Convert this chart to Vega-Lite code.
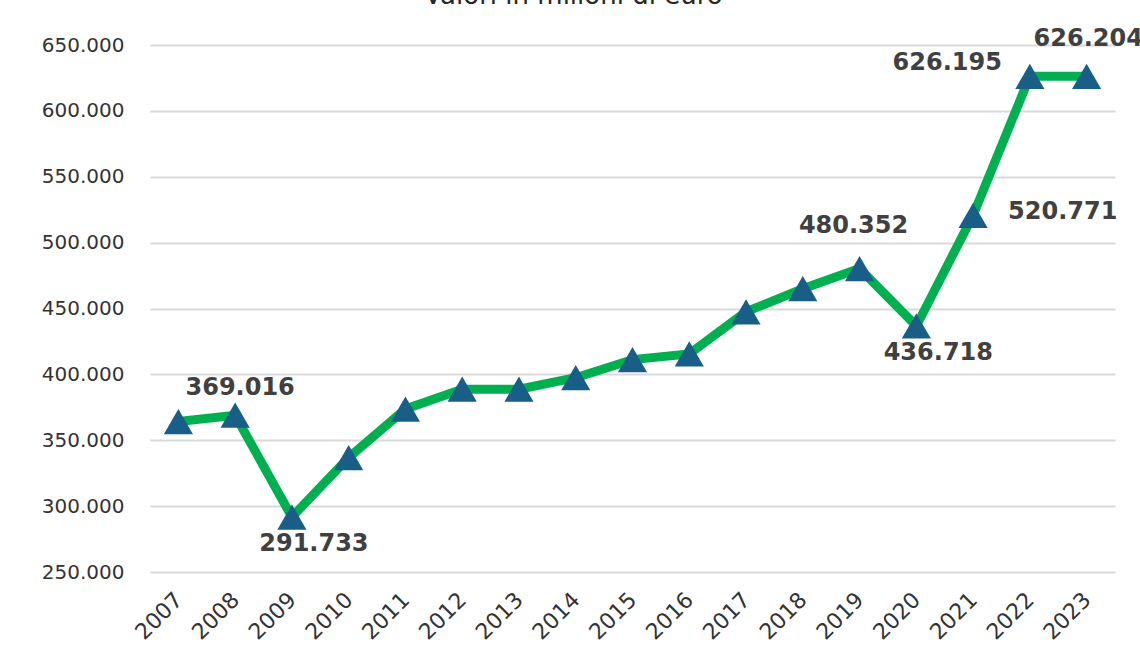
{
  "$schema": "https://vega.github.io/schema/vega-lite/v6.json",
  "autosize": "none",
  "width": 965,
  "height": 527,
  "padding": {"left": 150, "top": 45, "right": 25, "bottom": 86},
  "background": "white",
  "config": {
    "locale": {"number": {"decimal": ",", "thousands": ".", "grouping": [3], "currency": ["€", ""]}},
    "view": {"stroke": null},
    "font": "DejaVu Sans"
  },
  "title": {
    "text": "Valori in milioni di euro",
    "font": "DejaVu Sans",
    "fontSize": 26,
    "fontWeight": "normal",
    "color": "#262626",
    "baseline": "alphabetic",
    "offset": 30,
    "dy": 33,
    "dx": -59
  },
  "data": {
    "values": [
      {"year": "2007", "value": 364200},
      {"year": "2008", "value": 369016},
      {"year": "2009", "value": 291733},
      {"year": "2010", "value": 336900},
      {"year": "2011", "value": 373700},
      {"year": "2012", "value": 388800},
      {"year": "2013", "value": 388800},
      {"year": "2014", "value": 397500},
      {"year": "2015", "value": 411200},
      {"year": "2016", "value": 415500},
      {"year": "2017", "value": 447500},
      {"year": "2018", "value": 465000},
      {"year": "2019", "value": 480352},
      {"year": "2020", "value": 436718},
      {"year": "2021", "value": 520771},
      {"year": "2022", "value": 626195},
      {"year": "2023", "value": 626204}
    ]
  },
  "encoding": {
    "x": {
      "field": "year",
      "type": "ordinal",
      "scale": {"type": "point", "padding": 0.5},
      "axis": {
        "title": null,
        "labelAngle": -45,
        "labelAlign": "right",
        "labelBaseline": "middle",
        "labelPadding": 24,
        "labelFont": "DejaVu Sans",
        "labelFontSize": 22,
        "labelColor": "#333333",
        "domain": false,
        "ticks": false,
        "grid": false
      }
    },
    "y": {
      "field": "value",
      "type": "quantitative",
      "scale": {"domain": [250000, 650000], "nice": false, "zero": false},
      "axis": {
        "title": null,
        "values": [250000, 300000, 350000, 400000, 450000, 500000, 550000, 600000, 650000],
        "format": ",d",
        "labelFont": "DejaVu Sans",
        "labelFontSize": 20,
        "labelColor": "#333333",
        "labelPadding": 26,
        "domain": false,
        "ticks": false,
        "grid": true,
        "gridColor": "#d9d9d9",
        "gridWidth": 2
      }
    }
  },
  "layer": [
    {"mark": {"type": "line", "color": "#00b050", "strokeWidth": 9, "strokeJoin": "miter"}},
    {"mark": {"type": "point", "shape": "triangle-up", "filled": true, "size": 850, "color": "#185e87", "opacity": 1}},
    {
      "transform": [{"filter": "datum.year == '2008'"}],
      "mark": {"type": "text", "font": "DejaVu Sans", "fontSize": 24, "fontWeight": "bold", "color": "#404040", "align": "center", "baseline": "middle", "dx": 5, "dy": -27},
      "encoding": {"text": {"field": "value", "type": "quantitative", "format": ",d"}}
    },
    {
      "transform": [{"filter": "datum.year == '2009' || datum.year == '2020'"}],
      "mark": {"type": "text", "font": "DejaVu Sans", "fontSize": 24, "fontWeight": "bold", "color": "#404040", "align": "center", "baseline": "middle", "dx": 22, "dy": 27},
      "encoding": {"text": {"field": "value", "type": "quantitative", "format": ",d"}}
    },
    {
      "transform": [{"filter": "datum.year == '2019'"}],
      "mark": {"type": "text", "font": "DejaVu Sans", "fontSize": 24, "fontWeight": "bold", "color": "#404040", "align": "center", "baseline": "middle", "dx": -6, "dy": -43},
      "encoding": {"text": {"field": "value", "type": "quantitative", "format": ",d"}}
    },
    {
      "transform": [{"filter": "datum.year == '2021'"}],
      "mark": {"type": "text", "font": "DejaVu Sans", "fontSize": 24, "fontWeight": "bold", "color": "#404040", "align": "left", "baseline": "middle", "dx": 35, "dy": -3},
      "encoding": {"text": {"field": "value", "type": "quantitative", "format": ",d"}}
    },
    {
      "transform": [{"filter": "datum.year == '2022'"}],
      "mark": {"type": "text", "font": "DejaVu Sans", "fontSize": 24, "fontWeight": "bold", "color": "#404040", "align": "right", "baseline": "middle", "dx": -28, "dy": -13},
      "encoding": {"text": {"field": "value", "type": "quantitative", "format": ",d"}}
    },
    {
      "transform": [{"filter": "datum.year == '2023'"}],
      "mark": {"type": "text", "font": "DejaVu Sans", "fontSize": 24, "fontWeight": "bold", "color": "#404040", "align": "left", "baseline": "middle", "dx": -53, "dy": -37},
      "encoding": {"text": {"field": "value", "type": "quantitative", "format": ",d"}}
    }
  ]
}
